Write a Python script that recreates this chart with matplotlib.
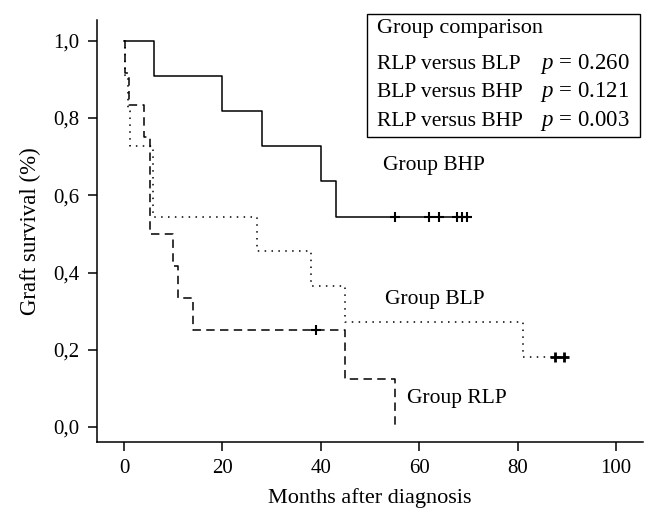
import matplotlib
matplotlib.use('Agg')
import matplotlib.pyplot as plt
from matplotlib.patches import Rectangle

plt.rcParams['font.family'] = ['Liberation Serif', 'DejaVu Serif']
plt.rcParams['mathtext.fontset'] = 'custom'
plt.rcParams['mathtext.rm'] = 'Liberation Serif'
plt.rcParams['mathtext.it'] = 'Liberation Serif:italic'

# Kaplan-Meier steps (months, survival)
bhp_t = [0, 6, 20, 28, 40, 43, 69.6]
bhp_s = [1.0, 0.909, 0.818, 0.727, 0.636, 0.545, 0.545]
bhp_cens = [55, 62, 64, 67.6, 68.6, 69.6]

blp_t = [0, 0.3, 0.8, 1.2, 5.8, 27, 38, 45, 81, 89.5]
blp_s = [1.0, 0.909, 0.818, 0.727, 0.545, 0.455, 0.364, 0.273, 0.182, 0.182]
blp_cens = [87.5, 89.5]

rlp_t = [0, 0.3, 1, 4, 5.3, 10, 11, 14, 45, 55]
rlp_s = [1.0, 0.917, 0.833, 0.75, 0.5, 0.417, 0.333, 0.25, 0.125, 0.0]
rlp_cens = [39]
rlp_cens_s = [0.25]

comparisons = ['RLP versus BLP', 'BLP versus BHP', 'RLP versus BHP']
p_values = ['0.260', '0.121', '0.003']

x_ticks = [0, 20, 40, 60, 80, 100]
y_ticks = [0.0, 0.2, 0.4, 0.6, 0.8, 1.0]
y_ticklabels = ['0,0', '0,2', '0,4', '0,6', '0,8', '1,0']

fig = plt.figure(figsize=(6.55, 5.25), dpi=100)
ax = fig.add_axes([0.148, 0.158, 0.834, 0.804])

lw = 1.1
ax.step(rlp_t, rlp_s, where='post', color='black', lw=lw, linestyle=(0, (5.5, 3.5)))
ax.step(blp_t, blp_s, where='post', color='black', lw=lw, linestyle=(0, (1, 3.5)))
ax.step(bhp_t, bhp_s, where='post', color='black', lw=lw)

ax.plot(bhp_cens, [bhp_s[-1]] * len(bhp_cens), '+', color='black', ms=7.5, mew=1.5)
ax.plot(blp_cens, [blp_s[-1]] * len(blp_cens), '+', color='black', ms=7.5, mew=2.0)
ax.plot(rlp_cens, rlp_cens_s, '+', color='black', ms=7.5, mew=1.5)

ax.text(52.6, 0.676, 'Group BHP', fontsize=15.5, va='center')
ax.text(53.0, 0.329, 'Group BLP', fontsize=15.5, va='center')
ax.text(57.6, 0.075, 'Group RLP', fontsize=15.5, va='center')

ax.set_xlim(-5.5, 105.5)
ax.set_ylim(-0.039, 1.054)
ax.set_xticks(x_ticks)
ax.set_yticks(y_ticks)
ax.set_yticklabels(y_ticklabels)
ax.tick_params(direction='out', length=6.5, width=1.1, labelsize=15, pad=6)
for side in ['top', 'right']:
    ax.spines[side].set_visible(False)
for side in ['left', 'bottom']:
    ax.spines[side].set_linewidth(1.1)

ax.set_xlabel('Months after diagnosis', fontsize=16, labelpad=7)
ax.set_ylabel('Graft survival (%)', fontsize=16.5, labelpad=9)

# comparison box in pixel positions of the figure
W, H = 655.0, 525.0
box = Rectangle((366.5 / W, 1 - 137 / H), (640 - 366.5) / W, (137 - 14) / H,
                transform=fig.transFigure, fill=False, edgecolor='black', lw=1.0)
fig.patches.append(box)
fig.text(377 / W, 1 - 29 / H, 'Group comparison', fontsize=16, va='center')
for i, (c, p) in enumerate(zip(comparisons, p_values)):
    y = 1 - (64 + 28.5 * i) / H
    fig.text(377 / W, y, c, fontsize=15.5, va='center')
    fig.text(540 / W, y, r'$p$ = ' + p, fontsize=16.5, va='center')

fig.savefig('out.png', dpi=100)
